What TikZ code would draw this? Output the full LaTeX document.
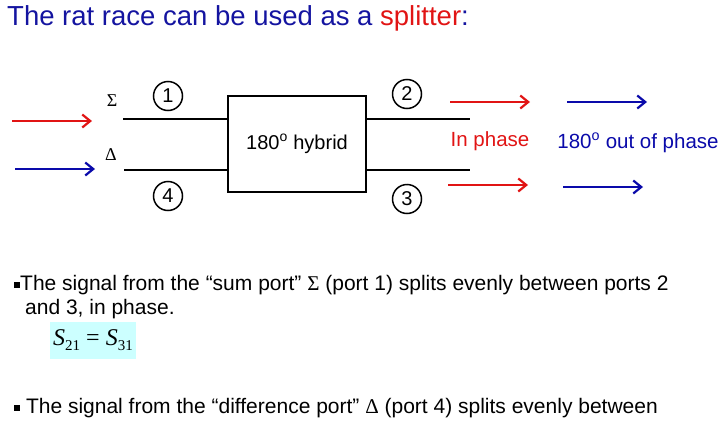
\documentclass[tikz,border=0pt]{standalone}
\usepackage{fontspec}
\setmainfont{Liberation Sans}
\newfontfamily\seriffont{Liberation Serif}
\usetikzlibrary{arrows.meta}
\definecolor{tblue}{RGB}{20,20,160}
\definecolor{tred}{RGB}{225,20,20}
\definecolor{ablue}{RGB}{10,10,170}
\definecolor{lcyan}{RGB}{204,255,255}
\begin{document}
\begin{tikzpicture}[x=1pt,y=-1pt,
  sig/.style={line width=2.2pt,-{Straight Barb[length=8pt,width=13pt,line width=2.2pt]}},
  port/.style={circle,draw,line width=1.5pt,minimum size=29pt,inner sep=0pt,font=\fontsize{20}{22}\selectfont},
  wire/.style={line width=1.3pt},
  body/.style={anchor=base west,inner sep=0pt,font=\fontsize{21}{24}\selectfont}]
\useasboundingbox (0,0) rectangle (720,434);
% title
\node[anchor=base west,inner sep=0pt,font=\fontsize{27.5}{32}\selectfont,text=tblue] (title) at (7,25) {The rat race can be used as a \textcolor{tred}{splitter}:};
% hybrid box
\node[draw,line width=1.6pt,minimum width=138pt,minimum height=96pt,inner sep=0pt,font=\fontsize{20}{22}\selectfont] (hyb) at (297,144) {180\textsuperscript{o} hybrid};
% port wires
\coordinate (w1) at (123,119);
\coordinate (w4) at (124,170);
\coordinate (w2) at (470,119);
\coordinate (w3) at (470,170);
\draw[wire] (w1) -- (w1 -| hyb.west);
\draw[wire] (w4) -- (w4 -| hyb.west);
\draw[wire] (w2 -| hyb.east) -- (w2);
\draw[wire] (w3 -| hyb.east) -- (w3);
% port numbers
\node[port] (p1) at (168,96) {1};
\node[port] (p4) at (168,196) {4};
\node[port] (p2) at (407,94) {2};
\node[port] (p3) at (407,199) {3};
% sigma delta
\node[inner sep=0pt,font=\seriffont\fontsize{18}{20}\selectfont] (sig) at (112,101) {Σ};
\node[inner sep=0pt,font=\seriffont\fontsize{18}{20}\selectfont] (del) at (111,155) {Δ};
% input arrows
\coordinate (ri0) at (12,121); \coordinate (ri1) at (92,121);
\coordinate (bi0) at (15,169); \coordinate (bi1) at (95,169);
\draw[sig,tred] (ri0) -- (ri1);
\draw[sig,ablue] (bi0) -- (bi1);
% output arrows
\coordinate (ro0) at (450,102); \coordinate (ro1) at (530,102);
\coordinate (ru0) at (448,185); \coordinate (ru1) at (528,185);
\coordinate (bo0) at (567,102); \coordinate (bo1) at (647,102);
\coordinate (bu0) at (563,187); \coordinate (bu1) at (643,187);
\draw[sig,tred] (ro0) -- (ro1);
\draw[sig,tred] (ru0) -- (ru1);
\draw[sig,ablue] (bo0) -- (bo1);
\draw[sig,ablue] (bu0) -- (bu1);
% phase labels
\node[inner sep=0pt,font=\fontsize{20.5}{22}\selectfont,text=tred] (inph) at (490,141) {In phase};
\node[inner sep=0pt,font=\fontsize{20.5}{22}\selectfont,text=ablue] (outph) at (638,143) {180\textsuperscript{o} out of phase};
% bullet 1
\node[body] (b1) at (14,290) {\rule[2pt]{6pt}{6pt}The signal from the “sum port” {\seriffont Σ} (port 1) splits evenly between ports 2};
\node[body] (b1b) at (25,314) {and 3, in phase.};
% equation box
\node[fill=lcyan,minimum width=86pt,minimum height=37pt,inner sep=0pt,font=\seriffont\fontsize{24}{26}\selectfont] (eq) at (93,340.5) {\textit{S}\raisebox{-5pt}{\fontsize{15}{16}\selectfont 21} = \textit{S}\raisebox{-5pt}{\fontsize{15}{16}\selectfont 31}};
% bullet 2
\node[body] (b2) at (14,413) {\rule[2pt]{6pt}{6pt} The signal from the “difference port” {\seriffont Δ} (port 4) splits evenly between};
\end{tikzpicture}
\end{document}
